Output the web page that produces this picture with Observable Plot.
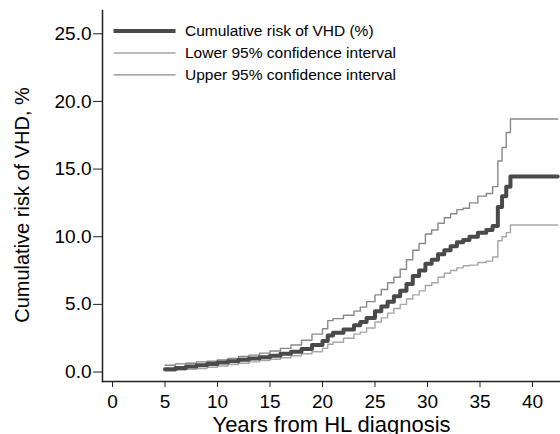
<!DOCTYPE html>
<html>
<head>
<meta charset="utf-8">
<script src="https://cdn.jsdelivr.net/npm/d3@7"></script>
<script src="https://cdn.jsdelivr.net/npm/@observablehq/plot@0.6"></script>
<style>
  html, body { margin: 0; padding: 0; background: #fff; }
  svg { display: block; }
</style>
</head>
<body>
<div id="chart"></div>
<script>
const years = [5, 6, 7, 8, 9, 10, 11, 12, 13, 14, 15, 16, 17, 18, 19, 20, 20.5, 21, 22, 23, 23.6, 24.2, 25, 25.6, 26.2, 26.8, 27.4, 28, 28.6, 29.2, 29.8, 30.4, 31, 31.6, 32.2, 32.8, 33.4, 34, 34.8, 35.6, 36.2, 36.7, 37.1, 37.5, 37.9, 42.4];
const riskMain = [0.2, 0.3, 0.4, 0.5, 0.6, 0.7, 0.8, 0.9, 1.0, 1.1, 1.2, 1.35, 1.5, 1.7, 2.0, 2.3, 2.7, 2.9, 3.15, 3.45, 3.7, 4.0, 4.5, 4.85, 5.2, 5.6, 6.0, 6.5, 7.1, 7.5, 8.0, 8.3, 8.7, 9.0, 9.3, 9.6, 9.75, 10.0, 10.3, 10.5, 10.8, 12.2, 13.0, 13.7, 14.45, 14.45];
const riskLower = [0.1, 0.15, 0.2, 0.25, 0.35, 0.45, 0.55, 0.65, 0.75, 0.85, 0.95, 1.05, 1.2, 1.35, 1.5, 1.75, 2.05, 2.2, 2.5, 2.8, 2.95, 3.25, 3.7, 4.0, 4.35, 4.7, 5.0, 5.4, 5.7, 6.0, 6.4, 6.6, 7.0, 7.3, 7.5, 7.7, 7.85, 7.9, 8.1, 8.2, 8.5, 9.7, 10.0, 10.3, 10.87, 10.87];
const riskUpper = [0.5, 0.6, 0.65, 0.75, 0.8, 0.9, 1.0, 1.15, 1.25, 1.4, 1.55, 1.75, 2.0, 2.35, 2.8, 3.2, 3.8, 3.95, 4.2, 4.5, 4.8, 5.2, 5.7, 6.1, 6.6, 7.0, 7.6, 8.3, 9.0, 9.5, 10.2, 10.5, 11.0, 11.4, 11.7, 12.0, 12.1, 12.5, 13.0, 13.2, 13.7, 15.6, 16.6, 17.7, 18.7, 18.7];

const seriesNames = ["Cumulative risk of VHD (%)", "Lower 95% confidence interval", "Upper 95% confidence interval"];
const seriesColors = ["#4a4a4a", "#a6a6a6", "#888888"];
const seriesWidths = [4, 1.4, 1.4];
const xTicks = [0, 5, 10, 15, 20, 25, 30, 35, 40];
const yTicks = [0, 5, 10, 15, 20, 25];
const xTitle = "Years from HL diagnosis";
const yTitle = "Cumulative risk of VHD, %";

const rows = [];
[riskMain, riskLower, riskUpper].forEach((arr, s) => {
  years.forEach((yr, i) => rows.push({year: yr, risk: arr[i], series: seriesNames[s]}));
});

const font = "Liberation Sans, Arial, Helvetica, sans-serif";

const marks = [];
[1, 2, 0].forEach(s => {
  marks.push(Plot.line(rows.filter(d => d.series === seriesNames[s]), {
    x: "year", y: "risk", curve: "step-after",
    stroke: seriesColors[s], strokeWidth: seriesWidths[s]
  }));
});

// legend inside plot (top-left)
const legendRows = seriesNames.map((name, i) => ({name, i}));
marks.push(Plot.link(legendRows, {
  x1: () => 0.1, x2: () => 6.0,
  y1: d => 25.2 - d.i * 1.62, y2: d => 25.2 - d.i * 1.62,
  stroke: d => seriesColors[d.i], strokeWidth: d => seriesWidths[d.i]
}));
marks.push(Plot.text(legendRows, {
  x: () => 6.9, y: d => 25.2 - d.i * 1.62, text: "name",
  textAnchor: "start", fontSize: 15.5, fill: "#000"
}));

marks.push(Plot.axisX({ticks: xTicks, tickFormat: d => String(d), tickSize: 6, tickPadding: 7, fontSize: 19, label: null, stroke: "#222"}));
marks.push(Plot.axisY({ticks: yTicks, tickFormat: d => d.toFixed(1), tickSize: 9, tickPadding: 2, fontSize: 19, label: null, stroke: "#222"}));
marks.push(Plot.frame({anchor: "left", stroke: "#222", strokeWidth: 1.5}));
marks.push(Plot.frame({anchor: "bottom", stroke: "#222", strokeWidth: 1.5}));
marks.push(Plot.text([xTitle], {frameAnchor: "bottom", textAnchor: "middle", dy: 50, fontSize: 22, fill: "#000", text: d => d}));
marks.push(Plot.text([yTitle], {frameAnchor: "left", textAnchor: "middle", dx: -80, dy: 9, rotate: -90, fontSize: 20, fill: "#000", text: d => d}));

const chart = Plot.plot({
  width: 560,
  height: 434,
  marginLeft: 102,
  marginRight: 0,
  marginTop: 10,
  marginBottom: 53,
  style: {fontFamily: font, color: "#000", background: "#fff", overflow: "visible"},
  x: {domain: [-0.952, 42.667]},
  y: {domain: [-0.70, 26.72]},
  marks
});
document.getElementById("chart").appendChild(chart);
</script>
</body>
</html>
